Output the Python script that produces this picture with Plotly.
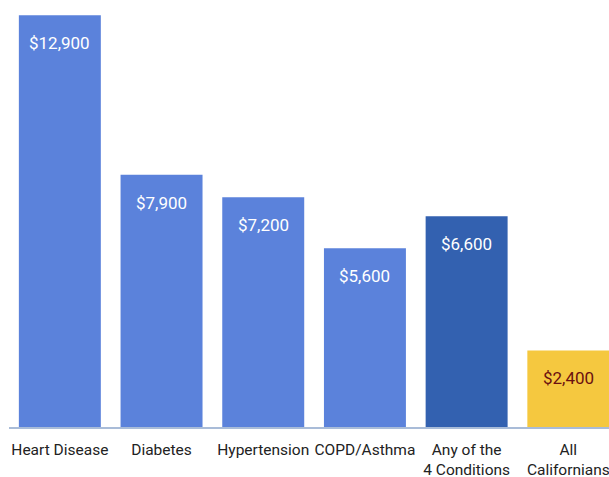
import plotly.graph_objects as go

categories = ["Heart Disease", "Diabetes", "Hypertension", "COPD/Asthma", "Any of the<br>4 Conditions", "All<br>Californians"]
values = [12900, 7900, 7200, 5600, 6600, 2400]
value_labels = ["$12,900", "$7,900", "$7,200", "$5,600", "$6,600", "$2,400"]
bar_colors = ["#5B82DB", "#5B82DB", "#5B82DB", "#5B82DB", "#3361B0", "#F5C83F"]
label_colors = ["white", "white", "white", "white", "white", "#6B1010"]

fig = go.Figure()
fig.add_trace(go.Bar(
    x=list(range(len(categories))), y=values,
    marker=dict(color=bar_colors, line=dict(width=0)),
    hoverinfo="skip",
))
for i, (v, t, c) in enumerate(zip(values, value_labels, label_colors)):
    fig.add_annotation(x=i, y=v, text=t, showarrow=False, yshift=-28,
                       font=dict(family="Roboto, Arial, sans-serif", size=17, color=c))

fig.update_layout(
    width=609, height=477,
    margin=dict(l=9, r=0, t=12, b=50),
    paper_bgcolor="white", plot_bgcolor="white",
    bargap=0.194, showlegend=False,
    xaxis=dict(
        tickmode="array", tickvals=list(range(len(categories))), ticktext=categories,
        range=[-0.5, 5.4], showline=True, linecolor="#A9BCD8", linewidth=2,
        showgrid=False, zeroline=False, ticks="", ticklabelstandoff=7,
        tickangle=0, automargin=False, ticklabeloverflow="allow",
        tickfont=dict(family="Roboto, Arial, sans-serif", size=15.5, color="#222222"),
        fixedrange=True,
    ),
    yaxis=dict(range=[0, 13000], visible=False, showgrid=False, zeroline=False,
               fixedrange=True, automargin=False),
)
fig.write_html("out.html", config={"displayModeBar": False},
               post_script="document.body.style.margin='0';document.body.style.overflow='hidden';")
